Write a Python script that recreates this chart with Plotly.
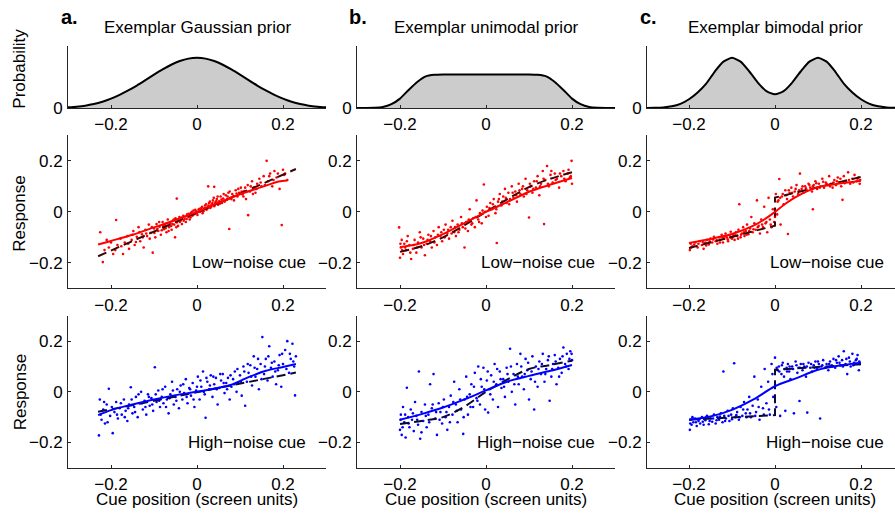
import plotly.graph_objects as go

# ---------------- data ----------------
prior_x = [-0.30, -0.28, -0.26, -0.24, -0.22, -0.20, -0.18, -0.16, -0.14, -0.12, -0.10,
           -0.08, -0.06, -0.04, -0.02, 0.00, 0.02, 0.04, 0.06, 0.08, 0.10,
           0.12, 0.14, 0.16, 0.18, 0.20, 0.22, 0.24, 0.26, 0.28, 0.30]
prior_gauss = [0.010, 0.020, 0.036, 0.062, 0.100, 0.150, 0.212, 0.283, 0.362, 0.449, 0.538,
               0.623, 0.698, 0.758, 0.797, 0.810, 0.797, 0.758, 0.698, 0.623, 0.538,
               0.449, 0.362, 0.283, 0.212, 0.150, 0.100, 0.062, 0.036, 0.020, 0.010]
prior_unimodal = [0.0, 0.0, 0.002, 0.015, 0.06, 0.15, 0.29, 0.42, 0.51, 0.535, 0.54,
                  0.54, 0.54, 0.54, 0.54, 0.54, 0.54, 0.54, 0.54, 0.54, 0.54,
                  0.535, 0.51, 0.42, 0.29, 0.15, 0.06, 0.015, 0.002, 0.0, 0.0]
prior_bimodal = [0.0, 0.002, 0.008, 0.025, 0.065, 0.140, 0.250, 0.394, 0.588, 0.748, 0.810,
                 0.749, 0.593, 0.410, 0.271, 0.219, 0.271, 0.410, 0.593, 0.749, 0.810,
                 0.748, 0.588, 0.394, 0.250, 0.140, 0.065, 0.025, 0.008, 0.002, 0.0]

# Column a: Gaussian prior
a_low_pts = [(-0.225,-0.080),(-0.219,-0.197),(-0.215,-0.150),(-0.205,-0.140),(-0.200,-0.120),(-0.195,-0.165),
 (-0.188,-0.032),(-0.185,-0.130),(-0.178,-0.105),(-0.172,-0.165),(-0.168,-0.120),(-0.162,-0.095),(-0.158,-0.145),
 (-0.152,-0.110),(-0.148,-0.075),(-0.145,-0.130),(-0.140,-0.098),(-0.136,-0.060),(-0.132,-0.115),(-0.128,-0.088),
 (-0.124,-0.140),(-0.120,-0.070),(-0.116,-0.095),(-0.112,-0.050),(-0.108,-0.082),(-0.103,-0.160),(-0.100,-0.065),
 (-0.097,-0.100),(-0.094,-0.048),(-0.090,-0.075),(-0.087,-0.058),(-0.084,-0.090),(-0.080,-0.040),(-0.077,-0.068),
 (-0.074,-0.052),(-0.071,-0.080),(-0.068,-0.030),(-0.065,-0.060),(-0.062,-0.045),(-0.059,-0.070),(-0.056,-0.035),
 (-0.053,-0.050),(-0.051,-0.100),(-0.050,-0.025),(-0.047,0.052),(-0.047,-0.042),(-0.044,-0.055),(-0.041,-0.020),
 (-0.038,-0.035),(-0.035,-0.048),(-0.032,-0.015),(-0.029,-0.028),(-0.026,-0.040),(-0.023,-0.010),(-0.020,-0.020),
 (-0.017,-0.030),(-0.014,-0.005),(-0.011,-0.015),(-0.008,0.005),(-0.005,-0.008),(-0.002,0.002),(0.001,-0.012),
 (0.004,0.010),(0.007,0.000),(0.010,0.015),(0.013,-0.005),(0.016,0.012),(0.019,0.025),(0.022,0.008),(0.025,0.020),
 (0.026,0.100),(0.028,0.035),(0.031,0.015),(0.034,0.030),(0.037,0.045),(0.040,0.098),(0.040,0.022),(0.043,0.038),
 (0.046,0.050),(0.049,0.028),(0.052,0.042),(0.055,0.060),(0.058,0.035),(0.061,0.052),(0.064,0.040),(0.067,0.065),
 (0.070,0.048),(0.073,0.075),(0.075,-0.067),(0.078,0.055),(0.082,0.070),(0.086,0.045),(0.090,0.085),(0.094,0.060),
 (0.098,0.075),(0.102,0.095),(0.106,0.068),(0.110,0.082),(0.114,0.050),(0.118,0.105),(0.119,-0.013),(0.123,0.080),
 (0.128,0.120),(0.132,0.095),(0.136,0.075),(0.140,0.110),(0.145,0.130),(0.150,0.100),(0.155,0.140),(0.162,0.200),
 (0.165,0.120),(0.170,0.150),(0.175,0.100),(0.180,0.160),(0.185,0.135),(0.192,0.090),(0.197,-0.052),(0.200,0.165),
 (0.205,0.150),(0.210,0.125),
 (-0.210,-0.110),(-0.190,-0.150),(-0.176,-0.135),(-0.160,-0.125),(-0.150,-0.090),(-0.142,-0.118),(-0.134,-0.080),
 (-0.126,-0.100),(-0.118,-0.085),(-0.110,-0.105),(-0.105,-0.060),(-0.099,-0.083),(-0.092,-0.066),(-0.088,-0.040),
 (-0.082,-0.072),(-0.079,-0.055),(-0.073,-0.064),(-0.069,-0.045),(-0.066,-0.075),(-0.060,-0.055),(-0.057,-0.048),
 (-0.054,-0.030),(-0.048,-0.060),(-0.045,-0.030),(-0.040,-0.040),(-0.036,-0.022),(-0.031,-0.035),(-0.027,-0.018),
 (-0.024,-0.028),(-0.019,-0.008),(-0.015,-0.022),(-0.012,0.000),(-0.009,-0.012),(-0.004,0.008),(0.000,-0.004),
 (0.003,0.000),(0.006,0.012),(0.009,0.005),(0.012,0.020),(0.015,0.002),(0.018,0.015),(0.021,0.030),(0.024,0.012),
 (0.027,0.025),(0.030,0.040),(0.033,0.020),(0.036,0.035),(0.039,0.055),(0.042,0.030),(0.045,0.042),(0.048,0.060),
 (0.053,0.032),(0.057,0.048),(0.062,0.070),(0.066,0.045),(0.071,0.060),(0.076,0.080),(0.080,0.050),(0.085,0.062),
 (0.092,0.072),(0.096,0.090),(0.104,0.080),(0.108,0.060),(0.112,0.095),(0.125,0.100),(0.130,0.070),(0.138,0.090),
 (0.148,0.115),(0.158,0.105),(0.168,0.140),(0.178,0.125),(0.188,0.150),(0.203,0.145)]
a_high_pts = [(-0.228,-0.172),(-0.226,-0.030),(-0.222,-0.110),(-0.218,-0.070),(-0.214,-0.125),(-0.210,-0.050),
 (-0.205,0.012),(-0.202,-0.095),(-0.196,-0.163),(-0.192,-0.080),(-0.188,-0.040),(-0.184,-0.105),(-0.180,-0.065),
 (-0.175,-0.090),(-0.170,-0.030),(-0.166,-0.075),(-0.162,-0.115),(-0.158,-0.050),(-0.154,0.018),(-0.150,-0.085),
 (-0.146,-0.060),(-0.142,-0.020),(-0.138,-0.100),(-0.134,-0.045),(-0.130,0.000),(-0.126,-0.070),(-0.122,-0.035),
 (-0.118,-0.090),(-0.114,-0.010),(-0.110,-0.055),(-0.106,-0.025),(-0.102,-0.075),(-0.098,0.097),(-0.094,-0.040),
 (-0.090,0.005),(-0.086,-0.060),(-0.082,-0.020),(-0.078,-0.045),(-0.074,0.020),(-0.070,-0.030),(-0.066,-0.085),
 (-0.062,-0.010),(-0.058,0.040),(-0.054,-0.050),(-0.050,-0.020),(-0.046,0.010),(-0.042,-0.065),(-0.038,0.025),
 (-0.034,-0.030),(-0.030,-0.005),(-0.026,0.050),(-0.022,-0.045),(-0.018,0.015),(-0.014,-0.015),(-0.010,0.035),
 (-0.006,-0.060),(-0.002,0.005),(0.002,0.060),(0.006,-0.030),(0.010,0.020),(0.014,0.080),(0.018,-0.010),
 (0.020,-0.102),(0.024,0.040),(0.028,0.010),(0.032,0.065),(0.036,-0.020),(0.040,0.030),(0.044,0.055),(0.048,-0.050),
 (0.052,0.015),(0.056,0.045),(0.060,0.070),(0.064,-0.005),(0.068,0.035),(0.072,0.055),(0.076,-0.030),(0.080,0.020),
 (0.084,0.050),(0.088,0.080),(0.092,0.000),(0.096,0.035),(0.100,0.065),(0.104,-0.015),(0.108,0.100),(0.112,-0.055),
 (0.116,0.040),(0.120,0.075),(0.124,0.105),(0.128,0.025),(0.132,0.140),(0.136,0.060),(0.140,0.090),(0.144,0.010),
 (0.148,0.110),(0.152,0.216),(0.156,0.070),(0.160,0.130),(0.164,0.045),(0.168,0.180),(0.172,0.095),(0.176,0.060),
 (0.180,0.120),(0.184,0.030),(0.188,0.085),(0.192,0.145),(0.196,0.020),(0.200,0.110),(0.205,0.165),(0.210,0.200),
 (0.214,0.075),(0.218,0.130),(0.222,0.190),(0.226,0.100),(0.228,-0.014),(0.230,0.140),
 (-0.224,-0.090),(-0.216,-0.040),(-0.208,-0.120),(-0.198,-0.060),(-0.186,-0.090),(-0.177,-0.045),(-0.168,-0.100),
 (-0.160,-0.065),(-0.152,-0.030),(-0.144,-0.080),(-0.136,-0.010),(-0.128,-0.045),(-0.120,-0.060),(-0.112,-0.020),
 (-0.104,-0.050),(-0.096,-0.010),(-0.088,-0.035),(-0.080,0.010),(-0.072,-0.060),(-0.064,-0.025),(-0.056,0.005),
 (-0.048,-0.035),(-0.040,0.000),(-0.032,0.030),(-0.024,-0.020),(-0.016,0.010),(-0.008,-0.030),(0.000,0.020),
 (0.008,0.045),(0.016,0.000),(0.022,0.055),(0.030,0.025),(0.038,0.060),(0.046,0.010),(0.054,0.070),(0.062,0.035),
 (0.070,0.010),(0.078,0.065),(0.086,0.030),(0.094,0.090),(0.102,0.040),(0.110,0.080),(0.118,0.110),(0.126,0.060),
 (0.134,0.095),(0.142,0.130),(0.150,0.050),(0.158,0.100),(0.166,0.140),(0.174,0.115),(0.182,0.080),(0.190,0.105),
 (0.198,0.150),(0.208,0.090),(0.216,0.150),(0.224,0.120)]

# Column b: unimodal prior
b_low_pts = [(-0.202,-0.061),(-0.200,-0.180),(-0.198,-0.140),(-0.196,-0.110),(-0.193,-0.165),(-0.190,-0.125),
 (-0.186,-0.150),(-0.182,-0.095),(-0.178,-0.130),(-0.174,-0.185),(-0.170,-0.145),(-0.166,-0.110),(-0.162,-0.160),
 (-0.158,-0.120),(-0.154,-0.080),(-0.150,-0.140),(-0.146,-0.105),(-0.142,-0.170),(-0.138,-0.125),(-0.134,-0.090),
 (-0.130,-0.115),(-0.126,-0.140),(-0.122,-0.075),(-0.118,-0.100),(-0.114,-0.130),(-0.110,-0.060),(-0.106,-0.095),
 (-0.102,-0.115),(-0.098,-0.070),(-0.094,-0.050),(-0.090,-0.085),(-0.086,-0.105),(-0.082,-0.060),(-0.078,-0.035),
 (-0.074,-0.080),(-0.070,-0.095),(-0.066,-0.050),(-0.062,-0.070),(-0.058,-0.020),(-0.054,-0.060),(-0.050,-0.140),
 (-0.046,-0.040),(-0.042,-0.075),(-0.038,0.010),(-0.034,-0.050),(-0.030,-0.025),(-0.026,-0.060),(-0.022,0.045),
 (-0.018,-0.030),(-0.014,-0.005),(-0.010,-0.045),(-0.005,0.107),(-0.002,0.000),(0.002,0.020),(0.006,-0.015),
 (0.010,0.035),(0.014,0.010),(0.018,0.050),(0.022,-0.005),(0.025,-0.122),(0.028,0.040),(0.032,0.070),(0.036,0.025),
 (0.040,0.060),(0.044,0.090),(0.048,0.035),(0.052,0.075),(0.056,0.050),(0.060,0.100),(0.064,0.055),(0.068,0.080),
 (0.072,0.040),(0.076,0.110),(0.080,0.070),(0.084,0.090),(0.088,0.060),(0.092,0.130),(0.096,0.085),(0.100,-0.022),
 (0.104,0.100),(0.108,0.075),(0.112,0.120),(0.116,0.095),(0.120,0.140),(0.124,0.065),(0.128,0.110),(0.132,0.160),
 (0.135,-0.048),(0.138,0.125),(0.142,0.180),(0.146,0.100),(0.150,0.145),(0.155,0.115),(0.160,0.150),(0.165,0.130),
 (0.170,0.095),(0.175,0.140),(0.180,0.160),(0.185,0.120),(0.190,0.150),(0.195,0.135),(0.199,0.200),(0.200,0.110),
 (-0.199,-0.125),(-0.195,-0.150),(-0.188,-0.140),(-0.184,-0.115),(-0.176,-0.160),(-0.168,-0.130),(-0.160,-0.140),
 (-0.152,-0.100),(-0.144,-0.130),(-0.136,-0.110),(-0.128,-0.095),(-0.120,-0.120),(-0.112,-0.090),(-0.104,-0.080),
 (-0.096,-0.100),(-0.088,-0.070),(-0.080,-0.085),(-0.072,-0.060),(-0.064,-0.080),(-0.056,-0.045),(-0.048,-0.065),
 (-0.040,-0.030),(-0.032,-0.045),(-0.024,-0.020),(-0.016,-0.040),(-0.008,0.005),(0.000,-0.020),(0.008,0.015),
 (0.016,0.030),(0.024,0.010),(0.030,0.050),(0.038,0.040),(0.046,0.055),(0.054,0.030),(0.062,0.075),(0.070,0.065),
 (0.078,0.085),(0.086,0.100),(0.094,0.070),(0.102,0.110),(0.110,0.090),(0.118,0.120),(0.126,0.100),(0.134,0.130),
 (0.144,0.110),(0.152,0.160),(0.162,0.125),(0.172,0.150),(0.182,0.130),(0.192,0.165),(0.197,0.140)]
b_high_pts = [(-0.200,-0.150),(-0.198,-0.090),(-0.196,-0.170),(-0.193,-0.060),(-0.190,-0.120),(-0.187,-0.180),
 (-0.184,0.016),(-0.181,-0.100),(-0.178,-0.140),(-0.175,-0.070),(-0.172,-0.110),(-0.168,-0.155),(-0.165,-0.040),
 (-0.162,-0.095),(-0.158,-0.130),(-0.156,0.080),(-0.153,-0.185),(-0.150,-0.080),(-0.146,-0.115),(-0.142,-0.050),
 (-0.138,-0.140),(-0.134,-0.090),(-0.130,0.030),(-0.126,-0.065),(-0.122,0.070),(-0.118,-0.105),(-0.114,-0.170),
 (-0.110,-0.045),(-0.106,-0.080),(-0.102,-0.125),(-0.098,-0.030),(-0.094,-0.100),(-0.090,-0.150),(-0.086,-0.060),
 (-0.082,-0.015),(-0.078,-0.090),(-0.074,0.040),(-0.070,-0.050),(-0.066,-0.120),(-0.062,0.010),(-0.058,-0.070),
 (-0.053,-0.166),(-0.050,-0.030),(-0.046,0.060),(-0.042,-0.090),(-0.038,-0.010),(-0.034,0.030),(-0.030,-0.060),
 (-0.026,0.075),(-0.022,-0.025),(-0.018,0.100),(-0.014,-0.050),(-0.010,0.020),(-0.006,0.095),(-0.002,-0.070),
 (0.002,0.045),(0.005,-0.082),(0.008,0.010),(0.012,0.065),(0.016,-0.030),(0.020,0.110),(0.024,0.030),(0.028,-0.060),
 (0.032,0.080),(0.036,0.015),(0.040,0.050),(0.044,-0.020),(0.048,0.095),(0.052,0.040),(0.056,0.170),(0.060,0.000),
 (0.064,0.070),(0.068,-0.050),(0.072,0.110),(0.076,0.030),(0.080,0.150),(0.084,0.060),(0.088,0.010),(0.092,0.130),
 (0.096,0.085),(0.100,-0.030),(0.104,0.050),(0.108,0.140),(0.112,-0.070),(0.116,0.100),(0.120,0.020),(0.124,0.120),
 (0.128,0.070),(0.132,0.150),(0.136,0.040),(0.140,0.090),(0.144,0.125),(0.148,-0.035),(0.152,0.060),(0.156,0.110),
 (0.160,0.145),(0.164,0.030),(0.168,0.095),(0.172,0.130),(0.176,0.075),(0.180,0.175),(0.184,0.110),(0.188,0.150),
 (0.192,0.090),(0.196,0.160),(0.200,0.125),
 (-0.199,-0.110),(-0.194,-0.140),(-0.188,-0.090),(-0.180,-0.125),(-0.170,-0.085),(-0.160,-0.110),(-0.150,-0.160),
 (-0.140,-0.095),(-0.132,-0.120),(-0.124,-0.050),(-0.116,-0.080),(-0.108,-0.110),(-0.100,-0.060),(-0.092,-0.080),
 (-0.084,-0.120),(-0.076,-0.040),(-0.068,-0.075),(-0.060,-0.030),(-0.052,-0.100),(-0.044,-0.020),(-0.036,-0.060),
 (-0.028,0.020),(-0.020,-0.035),(-0.012,0.050),(-0.004,0.010),(0.004,0.080),(0.010,-0.010),(0.018,0.040),
 (0.026,0.090),(0.034,0.050),(0.042,0.020),(0.050,0.070),(0.058,0.100),(0.066,0.030),(0.074,0.060),(0.082,0.100),
 (0.090,0.070),(0.098,0.115),(0.106,0.080),(0.114,0.040),(0.122,0.090),(0.130,0.110),(0.138,0.070),(0.146,0.140),
 (0.154,0.090),(0.162,0.120),(0.170,0.060),(0.178,0.140),(0.186,0.100),(0.194,0.130),(0.199,0.150)]

# Column c: bimodal prior
c_low_pts = [(-0.198,-0.150),(-0.196,-0.125),(-0.192,-0.135),(-0.185,-0.120),(-0.180,-0.140),(-0.175,-0.115),
 (-0.170,-0.130),(-0.166,-0.145),(-0.162,-0.120),(-0.158,-0.110),(-0.154,-0.128),(-0.150,-0.105),(-0.146,-0.120),
 (-0.142,-0.098),(-0.138,-0.115),(-0.134,-0.125),(-0.130,-0.100),(-0.127,-0.110),(-0.124,-0.090),(-0.121,-0.120),
 (-0.118,-0.105),(-0.115,-0.085),(-0.112,-0.100),(-0.109,-0.115),(-0.106,-0.092),(-0.103,-0.078),(-0.100,-0.105),
 (-0.097,-0.090),(-0.094,-0.110),(-0.091,-0.080),(-0.088,-0.095),(-0.085,-0.070),(-0.083,0.030),(-0.080,-0.100),
 (-0.077,-0.085),(-0.074,-0.060),(-0.071,-0.095),(-0.068,-0.075),(-0.065,-0.050),(-0.062,-0.088),(-0.058,-0.065),
 (-0.055,-0.020),(-0.052,-0.080),(-0.048,-0.045),(-0.045,-0.070),(-0.042,0.045),(-0.038,-0.055),(-0.035,-0.085),
 (-0.032,-0.030),(-0.028,-0.060),(-0.025,0.020),(-0.022,-0.045),(-0.018,-0.080),(-0.015,0.055),(-0.012,-0.030),
 (-0.008,-0.060),(-0.005,0.010),(-0.002,-0.040),(0.002,0.070),(0.005,-0.010),(0.008,0.045),(0.010,0.129),
 (0.013,-0.050),(0.016,0.060),(0.020,0.030),(0.024,0.085),(0.028,0.050),(0.030,-0.087),(0.034,0.075),(0.038,0.095),
 (0.042,0.060),(0.046,0.080),(0.050,0.105),(0.054,0.070),(0.058,0.150),(0.062,0.090),(0.066,0.075),(0.070,0.100),
 (0.074,0.085),(0.078,0.110),(0.082,0.095),(0.086,0.080),(0.088,0.010),(0.090,0.105),(0.094,0.120),(0.098,0.090),
 (0.102,0.110),(0.106,0.100),(0.110,0.130),(0.114,0.095),(0.118,0.115),(0.122,0.105),(0.126,0.140),(0.130,0.110),
 (0.134,0.095),(0.138,0.125),(0.142,0.105),(0.146,0.135),(0.150,0.115),(0.154,0.100),(0.157,0.047),(0.160,0.140),
 (0.165,0.120),(0.170,0.155),(0.175,0.110),(0.180,0.130),(0.185,0.145),(0.190,0.120),(0.194,0.135),(0.197,0.110),
 (-0.195,-0.140),(-0.188,-0.128),(-0.178,-0.125),(-0.168,-0.118),(-0.160,-0.132),(-0.152,-0.115),(-0.144,-0.108),
 (-0.136,-0.112),(-0.128,-0.120),(-0.122,-0.100),(-0.116,-0.095),(-0.110,-0.108),(-0.104,-0.100),(-0.098,-0.098),
 (-0.092,-0.092),(-0.086,-0.105),(-0.079,-0.090),(-0.072,-0.080),(-0.066,-0.090),(-0.060,-0.075),(-0.050,-0.068),
 (-0.040,-0.060),(-0.030,-0.050),(-0.020,-0.040),(-0.010,-0.050),(0.000,-0.020),(0.006,0.040),(0.012,0.055),
 (0.018,0.070),(0.026,0.065),(0.032,0.085),(0.040,0.075),(0.048,0.090),(0.056,0.085),(0.064,0.100),(0.072,0.092),
 (0.080,0.105),(0.088,0.100),(0.096,0.112),(0.104,0.095),(0.112,0.118),(0.120,0.110),(0.128,0.100),(0.136,0.115),
 (0.144,0.120),(0.152,0.130),(0.162,0.112),(0.172,0.125),(0.182,0.115),(0.192,0.130),(0.198,0.125)]
c_high_pts = [(-0.198,-0.150),(-0.196,-0.110),(-0.194,-0.130),(-0.190,-0.120),(-0.186,-0.105),(-0.182,-0.135),
 (-0.178,-0.115),(-0.174,-0.125),(-0.170,-0.100),(-0.166,-0.130),(-0.162,-0.112),(-0.158,-0.095),(-0.154,-0.128),
 (-0.150,-0.105),(-0.146,-0.118),(-0.142,-0.090),(-0.138,-0.125),(-0.134,-0.100),(-0.130,-0.110),(-0.126,-0.085),
 (-0.122,-0.120),(-0.120,0.080),(-0.118,-0.095),(-0.114,-0.105),(-0.110,-0.075),(-0.106,-0.115),(-0.102,-0.090),
 (-0.098,-0.065),(-0.095,0.113),(-0.092,-0.100),(-0.088,-0.080),(-0.084,-0.110),(-0.080,-0.060),(-0.076,-0.095),
 (-0.072,-0.040),(-0.068,-0.085),(-0.064,-0.070),(-0.060,-0.020),(-0.056,-0.100),(-0.052,-0.055),(-0.048,0.060),
 (-0.044,-0.080),(-0.040,-0.030),(-0.036,-0.110),(-0.032,0.020),(-0.028,-0.065),(-0.024,0.090),(-0.020,-0.045),
 (-0.016,0.040),(-0.012,-0.090),(-0.008,0.110),(-0.004,-0.020),(0.000,0.135),(0.003,-0.060),(0.006,0.085),
 (0.009,0.100),(0.012,-0.095),(0.015,0.070),(0.018,0.115),(0.021,0.060),(0.024,-0.075),(0.027,0.095),(0.030,0.110),
 (0.033,0.080),(0.036,0.050),(0.040,0.100),(0.044,-0.085),(0.048,0.120),(0.052,0.075),(0.055,0.095),(0.057,-0.036),
 (0.060,0.110),(0.064,0.085),(0.068,0.100),(0.072,0.060),(0.075,-0.082),(0.078,0.115),(0.082,0.095),(0.086,0.080),
 (0.090,0.105),(0.094,0.120),(0.098,0.090),(0.102,0.110),(0.105,-0.105),(0.108,0.100),(0.112,0.125),(0.116,0.095),
 (0.120,0.110),(0.124,0.085),(0.128,0.120),(0.132,0.105),(0.136,0.130),(0.140,0.095),(0.144,0.115),(0.148,0.140),
 (0.152,0.105),(0.156,0.125),(0.160,0.160),(0.164,0.110),(0.168,0.070),(0.172,0.135),(0.176,0.100),(0.180,0.150),
 (0.184,0.115),(0.188,0.125),(0.192,0.145),(0.195,0.085),(0.197,0.110),
 (-0.197,-0.125),(-0.192,-0.100),(-0.184,-0.120),(-0.176,-0.108),(-0.168,-0.118),(-0.160,-0.100),(-0.152,-0.115),
 (-0.144,-0.105),(-0.136,-0.112),(-0.128,-0.098),(-0.116,-0.115),(-0.108,-0.095),(-0.100,-0.108),(-0.090,-0.092),
 (-0.082,-0.100),(-0.074,-0.070),(-0.066,-0.100),(-0.058,-0.085),(-0.046,-0.095),(-0.038,-0.060),(-0.026,-0.090),
 (-0.014,-0.070),(-0.006,0.070),(0.004,0.095),(0.010,0.080),(0.016,0.105),(0.022,0.090),(0.028,0.080),(0.034,0.100),
 (0.042,0.090),(0.050,0.105),(0.058,0.095),(0.066,0.110),(0.074,0.100),(0.084,0.110),(0.092,0.095),(0.100,0.120),
 (0.110,0.105),(0.118,0.095),(0.126,0.110),(0.134,0.100),(0.142,0.125),(0.150,0.115),(0.158,0.100),(0.166,0.130),
 (0.174,0.120),(0.182,0.105),(0.190,0.130),(0.196,0.120)]

# Model fits (solid) and ideal observer (dashed)
a_low_fit_x = [-0.23, -0.20, -0.15, -0.10, -0.05, 0.00, 0.05, 0.10, 0.15, 0.19, 0.21]
a_low_fit_y = [-0.128, -0.114, -0.090, -0.061, -0.032, 0.000, 0.035, 0.069, 0.097, 0.119, 0.123]
a_low_ideal_x = [-0.23, 0.23]
a_low_ideal_y = [-0.174, 0.168]
a_high_fit_x = [-0.23, -0.20, -0.15, -0.10, -0.05, 0.00, 0.05, 0.08, 0.12, 0.16, 0.20, 0.23]
a_high_fit_y = [-0.092, -0.072, -0.050, -0.030, -0.013, 0.000, 0.016, 0.028, 0.058, 0.083, 0.098, 0.110]
a_high_ideal_x = [-0.23, 0.23]
a_high_ideal_y = [-0.079, 0.076]

b_fit_x = [-0.20, -0.15, -0.10, -0.05, 0.00, 0.05, 0.10, 0.15, 0.20]
b_low_fit_y = [-0.139, -0.122, -0.087, -0.044, 0.000, 0.039, 0.079, 0.107, 0.133]
b_low_ideal_y = [-0.157, -0.135, -0.100, -0.052, 0.000, 0.050, 0.097, 0.130, 0.155]
b_high_fit_y = [-0.110, -0.088, -0.062, -0.030, 0.006, 0.041, 0.063, 0.083, 0.106]
b_high_ideal_y = [-0.127, -0.115, -0.100, -0.058, 0.000, 0.049, 0.090, 0.106, 0.123]

c_low_fit_x = [-0.20, -0.15, -0.10, -0.05, -0.025, 0.00, 0.025, 0.05, 0.10, 0.15, 0.20]
c_low_fit_y = [-0.122, -0.106, -0.087, -0.054, -0.030, 0.000, 0.033, 0.060, 0.097, 0.111, 0.122]
c_ideal_x = [-0.20, 0.00, 0.00, 0.20]
c_low_ideal_y = [-0.142, -0.054, 0.056, 0.137]
c_high_fit_x = [-0.20, -0.15, -0.10, -0.05, 0.00, 0.05, 0.10, 0.15, 0.20]
c_high_fit_y = [-0.110, -0.097, -0.071, -0.030, 0.022, 0.054, 0.087, 0.104, 0.115]
c_high_ideal_y = [-0.110, -0.092, 0.087, 0.109]

titles = ["Exemplar Gaussian prior", "Exemplar unimodal prior", "Exemplar bimodal prior"]
letters = ["a.", "b.", "c."]
ticks_xy = [-0.2, 0, 0.2]
tick_text = ["\u22120.2", "0", "0.2"]

# ---------------- figure ----------------
W, H = 895, 521
FONT = "Liberation Sans, Arial, Helvetica, sans-serif"
FS = 17
RED, BLUE = "#ff0000", "#0000ff"
DRED, DBLUE = "#3a0808", "#0a0a35"
DASH = "9px,5px"
AXC = "#262626"

col_px = [(68, 326), (357, 615), (647, 895)]
col_zero = [197, 486, 775]
row_px = [(47, 110), (138, 294), (322, 477)]

fig = go.Figure()

def axname(k, axis):
    return axis if k == 1 else f"{axis}{k}"

def add_axes(k, r, c):
    x0, x1 = col_px[c]
    xr = [-(col_zero[c] - x0) / 430.0, (x1 - col_zero[c]) / 430.0]
    y0, y1 = row_px[r]
    xa = dict(domain=[x0 / W, x1 / W], range=xr, anchor=axname(k, "y"),
              showline=True, linecolor=AXC, linewidth=1, ticks="inside", ticklen=3,
              tickcolor=AXC, tickwidth=1, ticklabelstandoff=1, showgrid=False,
              zeroline=False, tickvals=ticks_xy, ticktext=tick_text,
              tickfont=dict(family=FONT, size=FS, color="black"))
    if r == 0:
        ya = dict(domain=[1 - y1 / H, 1 - y0 / H], range=[0, 1], tickvals=[0], ticktext=["0"])
    else:
        ya = dict(domain=[1 - y1 / H, 1 - y0 / H], range=[-0.3, 0.3], tickvals=ticks_xy, ticktext=tick_text)
    ya.update(anchor=axname(k, "x"), showline=True, linecolor=AXC, linewidth=1, ticks="inside",
              ticklen=3, tickcolor=AXC, tickwidth=1, ticklabelstandoff=1,
              showgrid=False, zeroline=False, tickfont=dict(family=FONT, size=FS, color="black"))
    fig.layout[axname(k, "xaxis")] = xa
    fig.layout[axname(k, "yaxis")] = ya

for r in range(3):
    for c in range(3):
        add_axes(r * 3 + c + 1, r, c)

# priors
for c, py in enumerate([prior_gauss, prior_unimodal, prior_bimodal]):
    k = c + 1
    fig.add_trace(go.Scatter(x=prior_x, y=py, mode="lines", fill="tozeroy", fillcolor="#cccccc",
                             line=dict(color="black", width=2, shape="spline", smoothing=0.6),
                             xaxis=axname(k, "x"), yaxis=axname(k, "y"), showlegend=False, hoverinfo="skip"))

def add_panel(k, pts, color, fit_x, fit_y, ideal_x, ideal_y, dcolor, smooth_ideal):
    xa, ya = axname(k, "x"), axname(k, "y")
    fig.add_trace(go.Scatter(x=[p[0] for p in pts], y=[p[1] for p in pts], mode="markers",
                             marker=dict(color=color, size=2.6, line=dict(width=0)),
                             xaxis=xa, yaxis=ya, showlegend=False))
    fig.add_trace(go.Scatter(x=ideal_x, y=ideal_y, mode="lines",
                             line=dict(color=dcolor, width=2, dash=DASH,
                                       shape="spline" if smooth_ideal else "linear"),
                             xaxis=xa, yaxis=ya, showlegend=False))
    fig.add_trace(go.Scatter(x=fit_x, y=fit_y, mode="lines",
                             line=dict(color=color, width=2, shape="spline", smoothing=0.8),
                             xaxis=xa, yaxis=ya, showlegend=False))

add_panel(4, a_low_pts, RED, a_low_fit_x, a_low_fit_y, a_low_ideal_x, a_low_ideal_y, DRED, False)
add_panel(5, b_low_pts, RED, b_fit_x, b_low_fit_y, b_fit_x, b_low_ideal_y, DRED, True)
add_panel(6, c_low_pts, RED, c_low_fit_x, c_low_fit_y, c_ideal_x, c_low_ideal_y, DRED, False)
add_panel(7, a_high_pts, BLUE, a_high_fit_x, a_high_fit_y, a_high_ideal_x, a_high_ideal_y, DBLUE, False)
add_panel(8, b_high_pts, BLUE, b_fit_x, b_high_fit_y, b_fit_x, b_high_ideal_y, DBLUE, True)
add_panel(9, c_high_pts, BLUE, c_high_fit_x, c_high_fit_y, c_ideal_x, c_high_ideal_y, DBLUE, False)

ann = []
for c in range(3):
    ann.append(dict(text=titles[c], x=col_zero[c] / W, y=1 - 28 / H, xref="paper", yref="paper",
                    xanchor="center", yanchor="middle", showarrow=False,
                    font=dict(family=FONT, size=FS, color="black")))
    ann.append(dict(text="<b>" + letters[c] + "</b>", x=[59, 347, 638][c] / W, y=1 - 17 / H,
                    xref="paper", yref="paper", xanchor="left", yanchor="middle", showarrow=False,
                    font=dict(family=FONT, size=20, color="black")))
    ann.append(dict(text="Cue position (screen units)", x=col_zero[c] / W, y=1 - 509 / H,
                    xref="paper", yref="paper", xanchor="center", yanchor="middle", showarrow=False,
                    font=dict(family=FONT, size=FS, color="black")))
    ann.append(dict(text="Low\u2212noise cue", x=0.257, y=-0.2, xref=axname(4 + c, "x"), yref=axname(4 + c, "y"),
                    xanchor="right", yanchor="middle", showarrow=False,
                    font=dict(family=FONT, size=FS, color="black")))
    ann.append(dict(text="High\u2212noise cue", x=0.257, y=-0.2, xref=axname(7 + c, "x"), yref=axname(7 + c, "y"),
                    xanchor="right", yanchor="middle", showarrow=False,
                    font=dict(family=FONT, size=FS, color="black")))
for txt, yc in [("Probability", 70), ("Response", 218), ("Response", 400)]:
    ann.append(dict(text=txt, x=20 / W, y=1 - yc / H, xref="paper", yref="paper", textangle=-90,
                    xanchor="center", yanchor="middle", showarrow=False,
                    font=dict(family=FONT, size=FS, color="black")))

fig.update_layout(width=W, height=H, margin=dict(l=0, r=0, t=0, b=0),
                  paper_bgcolor="white", plot_bgcolor="white", annotations=ann,
                  font=dict(family=FONT, size=FS, color="black"), showlegend=False)

fig.write_html("out.html", config={"displayModeBar": False},
               post_script="document.body.style.margin='0';")
